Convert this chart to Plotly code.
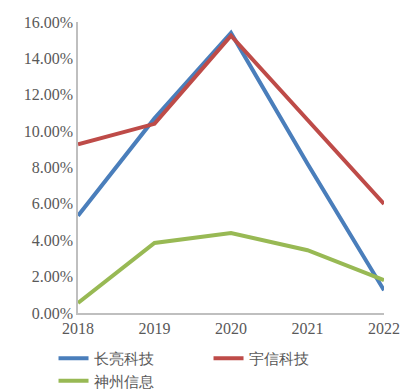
import plotly.graph_objects as go

years = [2018, 2019, 2020, 2021, 2022]
changliang = [5.35, 10.7, 15.4, 8.2, 1.25]
yuxin = [9.28, 10.4, 15.25, 10.65, 6.0]
shenzhou = [0.55, 3.85, 4.4, 3.45, 1.8]
y_ticks = [0, 2, 4, 6, 8, 10, 12, 14, 16]
y_tick_text = [f"{v:.2f}%" for v in y_ticks]

fig = go.Figure()
series = [("长亮科技", changliang, "#4a7ebb"),
          ("宇信科技", yuxin, "#be4b48"),
          ("神州信息", shenzhou, "#98b954")]
for name, vals, col in series:
    fig.add_trace(go.Scatter(x=years, y=vals, name=name, mode="lines",
                             line=dict(color=col, width=4)))

SERIF = "Times New Roman, Liberation Serif, DejaVu Serif, serif"
fig.update_layout(
    width=404, height=390,
    margin=dict(l=78, r=20, t=22, b=77, autoexpand=False),
    paper_bgcolor="white", plot_bgcolor="white",
    font=dict(family=SERIF, size=16, color="#595959"),
    showlegend=True,
    legend=dict(orientation="h", x=-0.08, xanchor="left", y=-0.1, yanchor="top",
                entrywidth=110, entrywidthmode="pixels",
                font=dict(family=SERIF, size=15, color="#595959"),
                tracegroupgap=0),
    xaxis=dict(range=[2018, 2022], tickvals=years, ticktext=[str(y) for y in years],
               showgrid=False, zeroline=False, showline=True, linecolor="#bfbfbf",
               linewidth=1.5, ticks="", tickfont=dict(family=SERIF, size=16)),
    yaxis=dict(range=[0, 16], tickvals=y_ticks, ticktext=y_tick_text,
               showgrid=False, zeroline=False, showline=True, linecolor="#bfbfbf",
               linewidth=1.5, ticks="", tickfont=dict(family=SERIF, size=16)),
)
fig.write_html("out.html")
